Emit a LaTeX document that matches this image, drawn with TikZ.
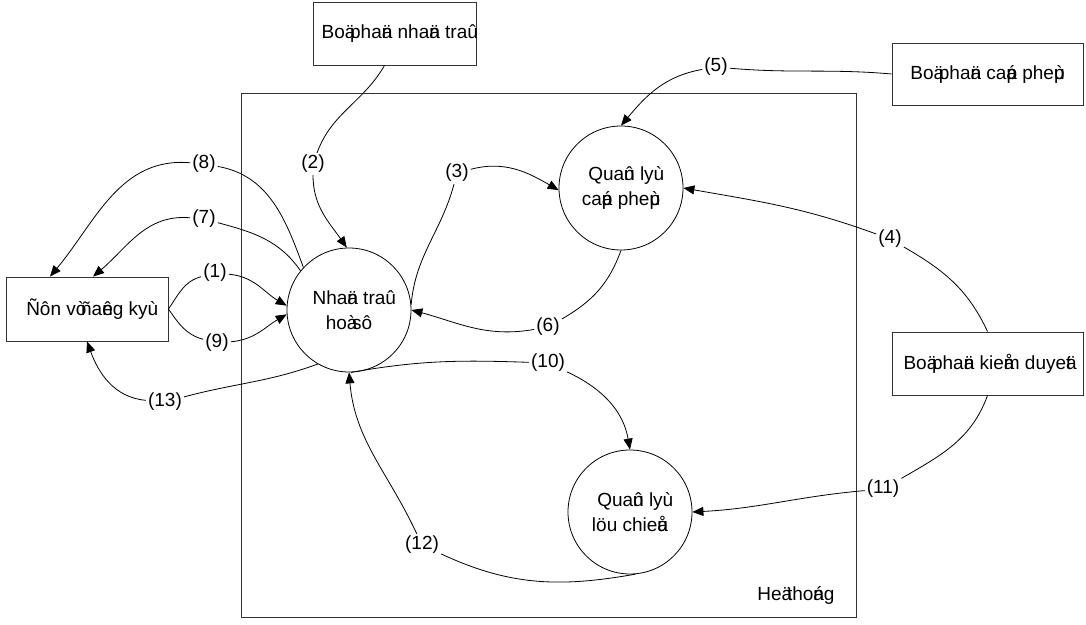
\documentclass[tikz,border=0pt]{standalone}
\usepackage{fontspec}
\setmainfont{Liberation Sans}
\usetikzlibrary{arrows.meta}
% a zero-width mark that overprints the following letter
\newcommand\vz[1]{\rlap{#1}}
\begin{document}
\begin{tikzpicture}[x=1pt,y=1pt,
  every node/.style={font=\fontsize{19}{25}\selectfont},
  box/.style={draw=black!80, line width=0.9pt, minimum width=#1, minimum height=63pt, inner sep=0pt},
  proc/.style={draw, circle, minimum size=124pt, inner sep=0pt, align=center, line width=0.8pt},
  lbl/.style={inner sep=2pt},
  link/.style={line width=0.8pt},
  flow/.style={line width=0.8pt, -{Triangle[length=11pt,width=9pt]}}
]
\useasboundingbox (0,0) rectangle (1086,624);

% system boundary
\draw[draw=black!80, line width=0.9pt] (241,7) rectangle (856,531);
\node (sys) at (796,29) {He\vz{ä} tho\vz{á}ng};

% external parties
\node[box=163pt] (T) at (394.5,590.5) {Bo\vz{ä} pha\vz{ä}n nha\vz{ä}n tra\vz{û}};
\node[box=191pt, minimum height=62pt] (C) at (987.5,550) {Bo\vz{ä} pha\vz{ä}n ca\vz{á}p phe\vz{ù}p};
\node[box=162pt, minimum height=64pt] (D) at (87,315) {Ñôn v\vz{ò} ña\vz{ê}ng ky\vz{ù}};
\node[box=191pt] (K) at (987.5,260.5) {Bo\vz{ä} pha\vz{ä}n kie\vz{å}m duye\vz{ä}t};

% processes
\node[proc] (N) at (349,314) {Nha\vz{ä}n tra\vz{û}\\ho\vz{à} sô};
\node[proc] (Q1) at (621,436) {Qua\vz{û}n ly\vz{ù}\\ca\vz{á}p phe\vz{ù}p};
\node[proc] (Q2) at (630,112) {Qua\vz{û}n ly\vz{ù}\\löu chie\vz{å}u};

% flow numbers
\node[lbl] (l1) at (215,351) {(1)};
\node[lbl] (l2) at (313,460) {(2)};
\node[lbl] (l3) at (457,451) {(3)};
\node[lbl] (l4) at (890,385) {(4)};
\node[lbl] (l5) at (716,557) {(5)};
\node[lbl] (l6) at (548,297) {(6)};
\node[lbl] (l7) at (204,405) {(7)};
\node[lbl] (l8) at (204,460) {(8)};
\node[lbl] (l9) at (217,281) {(9)};
\node[lbl] (l10) at (548,261) {(10)};
\node[lbl] (l11) at (883,135) {(11)};
\node[lbl] (l12) at (422,79) {(12)};
\node[lbl] (l13) at (165,222) {(13)};

% flows
\draw[link] (D.east) to[out=55,in=195] (l1);
\draw[flow] (l1) to[out=-5,in=150] (N.176);
\draw[link] (D.east) to[out=-55,in=165] (l9);
\draw[flow] (l9) to[out=5,in=210] (N.184);
\draw[link] (N.137) to[out=110,in=-10] (l8);
\draw[flow] (l8) to[out=175,in=50] ([xshift=-37pt]D.north);
\draw[link] (N.141) to[out=125,in=-15] (l7);
\draw[flow] (l7) to[out=175,in=40] ([xshift=6pt]D.north);
\draw[link] ([xshift=-10pt]T.south) to[out=240,in=70] (l2);
\draw[flow] (l2) to[out=270,in=125] (N.92);
\draw[link] (N.5) to[out=85,in=255] (l3);
\draw[flow] (l3) to[out=15,in=150] (Q1.182);
\draw[link] (C.west) to[out=175,in=-5] (l5);
\draw[flow] (l5) to[out=190,in=50] (Q1.90);
\draw[link] (K.north) to[out=115,in=-30] (l4);
\draw[flow] (l4) to[out=160,in=-10] (Q1.0);
\draw[link] (Q1.270) to[out=250,in=30] (l6);
\draw[flow] (l6) to[out=190,in=-15] (N.0);
\draw[link] (N.272) to[out=10,in=178] (l10);
\draw[flow] (l10) to[out=-25,in=100] (Q2.90);
\draw[link] (K.south) to[out=250,in=30] (l11);
\draw[flow] (l11) to[out=185,in=3] (Q2.0);
\draw[link] (Q2.275) to[out=190,in=-25] (l12);
\draw[flow] (l12) to[out=115,in=-85] (N.270);
\draw[link] (N.240) to[out=200,in=15] (l13);
\draw[flow] (l13) to[out=175,in=-70] (D.south);
\end{tikzpicture}
\end{document}
